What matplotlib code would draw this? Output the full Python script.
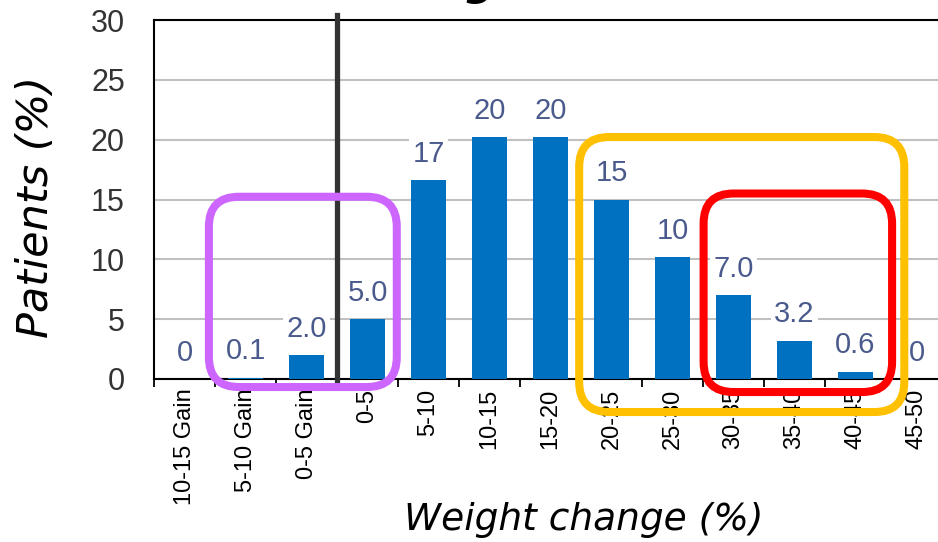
import numpy as np
import matplotlib
matplotlib.use("Agg")
import matplotlib.pyplot as plt
from matplotlib.patches import FancyBboxPatch
from matplotlib.transforms import IdentityTransform

# weight change categories and share of patients in each
categories = ["10-15 Gain", "5-10 Gain", "0-5 Gain", "0-5", "5-10", "10-15",
              "15-20", "20-25", "25-30", "30-35", "35-40", "40-45", "45-50"]
patients = [0, 0.1, 2.0, 5.0, 16.6, 20.2, 20.2, 15.0, 10.2, 7.0, 3.2, 0.6, 0]

# highlight boxes: (x0, x1, y0, y1) in category / percent units
groups = {
    "#CC66FF": (0.40, 3.48, -0.67, 15.23),
    "#FFC000": (6.47, 11.80, -2.76, 20.22),
    "#FF0000": (8.51, 11.60, -1.09, 15.50),
}


def fmt(v):
    if v == 0:
        return "0"
    if v >= 10:
        return f"{v:.0f}"
    return f"{v:.1f}"


fig = plt.figure(figsize=(9.38, 5.42), dpi=100)
ax = fig.add_axes([154 / 938, 1 - 379 / 542, 793 / 938, 359 / 542])

x = np.arange(len(categories))
ax.bar(x, patients, width=0.56, color="#0070C0", zorder=3)

for xi, v in zip(x, patients):
    ax.annotate(fmt(v), (xi, v), xytext=(0, 19), textcoords="offset points",
                ha="center", va="center", fontsize=21, color="#4A5A8C",
                family="Liberation Sans", zorder=4,
                bbox=dict(boxstyle="square,pad=0.1", fc="white", ec="none"))

ax.set_xlim(-0.5, len(categories) - 0.5)
ax.set_ylim(0, 30)
ax.set_yticks(range(0, 31, 5))
ax.set_yticklabels([str(t) for t in range(0, 31, 5)], family="Liberation Sans",
                   fontsize=22, color="#333333")
ax.tick_params(axis="y", length=0, pad=21)
ax.yaxis.grid(True, color="#C0C0C0", lw=1.5, zorder=0)

# boundary ticks between bars, labels at bar centres
ax.set_xticks(np.arange(-0.5, len(categories), 1.0))
ax.set_xticklabels([])
ax.tick_params(axis="x", which="major", direction="out", length=6, width=1.3)
ax.set_xticks(x, minor=True)
ax.set_xticklabels(categories, minor=True, rotation=90, fontsize=17,
                   family="Liberation Sans", va="top")
ax.tick_params(axis="x", which="minor", length=0, pad=7)

for s in ["left", "bottom", "top"]:
    ax.spines[s].set_color("black")
    ax.spines[s].set_linewidth(1.5)
ax.spines["right"].set_visible(False)

# separator between gain and loss
ax.plot([2.5, 2.5], [30.4, -0.5], color="#333333", lw=3.8, clip_on=False, zorder=5)

# rounded highlight frames, drawn in pixel space so corners stay circular
for color, (x0, x1, y0, y1) in groups.items():
    (px0, py0), (px1, py1) = ax.transData.transform([(x0, y0), (x1, y1)])
    box = FancyBboxPatch((px0, py0), px1 - px0, py1 - py0,
                         boxstyle="round,pad=0,rounding_size=30",
                         fc="none", ec=color, lw=5.8,
                         transform=IdentityTransform(), zorder=6)
    fig.patches.append(box)

# axis titles
fig.text(584 / 938, 1 - 520 / 542, "Weight change (%)", fontsize=27,
         style="italic", family="DejaVu Sans", ha="center", va="center")
fig.text(36 / 938, 1 - 207 / 542, "Patients (%)", fontsize=31, rotation=90,
         style="italic", family="DejaVu Sans", ha="center", va="center")

fig.text(380 / 938, 1 + 4.6 / 542, "Weight loss", fontsize=30,
         weight="bold", style="italic", family="DejaVu Sans", va="baseline")

fig.savefig("out.png", dpi=100)
